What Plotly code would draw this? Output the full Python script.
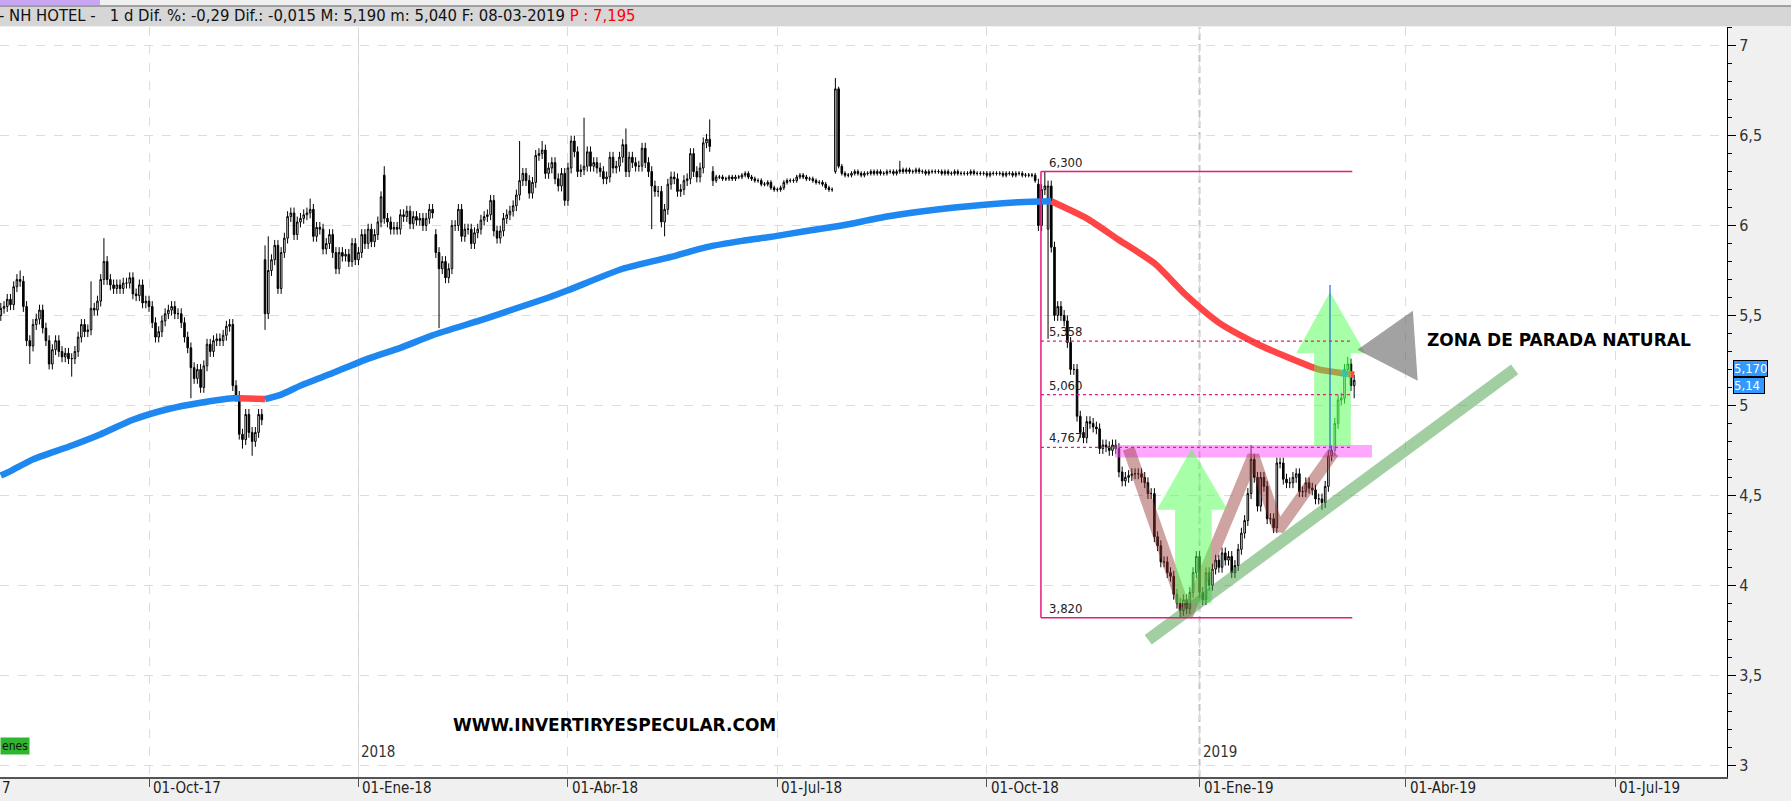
import numpy as np
import pandas as pd
import plotly.graph_objects as go

# ---------------- DATA ----------------
first_day = "2017-07-28"
first_open = 5.50
close = [
    5.54, 5.55, 5.59, 5.56, 5.66, 5.70, 5.69, 5.55, 5.36, 5.33,
    5.45, 5.48, 5.53, 5.43, 5.36, 5.23, 5.31, 5.36, 5.30, 5.27,
    5.29, 5.26, 5.26, 5.30, 5.38, 5.45, 5.41, 5.42, 5.54, 5.53,
    5.58, 5.70, 5.80, 5.70, 5.67, 5.65, 5.67, 5.65, 5.68, 5.68,
    5.71, 5.62, 5.61, 5.67, 5.57, 5.58, 5.55, 5.46, 5.38, 5.41,
    5.47, 5.51, 5.53, 5.55, 5.51, 5.51, 5.46, 5.38, 5.32, 5.21,
    5.15, 5.20, 5.10, 5.22, 5.34, 5.30, 5.36, 5.37, 5.36, 5.39,
    5.44, 5.45, 5.11, 5.05, 4.84, 4.81, 4.95, 4.85, 4.80, 4.85,
    4.95, 4.92,
    5.51, 5.75, 5.81, 5.89, 5.65, 5.85, 5.93, 6.05, 6.07, 5.95,
    6.02, 6.04, 6.06, 6.07, 6.09, 5.94, 5.99, 5.98, 5.87, 5.90,
    5.95, 5.85, 5.76, 5.85, 5.83, 5.84, 5.80, 5.90, 5.81, 5.85,
    5.95, 5.90, 5.98, 5.91, 5.95, 6.02, 6.16, 6.04, 6.02, 5.98,
    5.99, 5.98, 6.06, 6.05, 6.08, 6.01, 6.05, 6.03, 6.04, 6.00,
    6.04, 6.09, 6.07, 5.85, 5.76, 5.80, 5.71, 5.76, 6.00, 6.00,
    6.09, 5.94, 5.98, 5.98, 5.90, 5.96, 5.98, 6.03, 6.05, 6.06,
    6.14, 5.97, 5.93, 5.97, 6.04, 6.06, 6.08, 6.11, 6.17, 6.25,
    6.29, 6.25, 6.18, 6.24, 6.39,
    6.40, 6.42, 6.29, 6.32, 6.35, 6.26, 6.22, 6.29, 6.14, 6.32,
    6.47, 6.41, 6.30, 6.31, 6.33, 6.41, 6.33, 6.35, 6.32, 6.30,
    6.26, 6.27, 6.38, 6.32, 6.33, 6.38, 6.45, 6.30, 6.38, 6.35,
    6.33, 6.33, 6.43, 6.35, 6.30, 6.22, 6.19, 6.19, 6.02, 6.09,
    6.23, 6.27, 6.26, 6.19, 6.20, 6.25, 6.26, 6.40, 6.30, 6.27,
    6.32, 6.46, 6.48, 6.44, 6.25,
    6.27, 6.27, 6.26, 6.26, 6.27, 6.26, 6.27, 6.27, 6.28, 6.29,
    6.27, 6.26, 6.25, 6.25, 6.23, 6.23, 6.24, 6.21, 6.20, 6.20,
    6.21, 6.24, 6.25, 6.25, 6.25, 6.27, 6.28, 6.27, 6.26, 6.26,
    6.25, 6.24, 6.24, 6.23, 6.21, 6.20, 6.20,
    6.76,
    6.33, 6.29, 6.28, 6.28, 6.29, 6.30, 6.29, 6.28, 6.29, 6.29,
    6.30, 6.29, 6.30, 6.29, 6.29, 6.30, 6.30, 6.29, 6.30, 6.31,
    6.30, 6.31, 6.30, 6.30, 6.31, 6.30, 6.30, 6.29, 6.30, 6.30,
    6.30, 6.30, 6.29, 6.30, 6.29, 6.29, 6.30, 6.29, 6.29, 6.29,
    6.29, 6.30, 6.29, 6.29, 6.29, 6.29, 6.28, 6.29, 6.29, 6.29,
    6.29, 6.28, 6.29, 6.29, 6.28, 6.29, 6.29, 6.28, 6.28, 6.28,
    6.28, 6.25,
    6.00, 6.20, 6.22, 6.22, 5.88, 5.50, 5.55, 5.50, 5.47, 5.35,
    5.20, 5.20, 4.94, 4.85, 4.82, 4.91, 4.90, 4.88, 4.87, 4.76,
    4.78, 4.77, 4.75, 4.78, 4.76, 4.63, 4.58, 4.60, 4.61, 4.62,
    4.62, 4.62, 4.60, 4.57, 4.51, 4.51, 4.27, 4.22, 4.13, 4.13,
    4.07, 4.05, 3.95, 3.90, 3.86, 3.92, 3.87, 3.96, 4.07, 4.16,
    3.96, 3.92, 4.07, 4.00, 4.09, 4.14, 4.10, 4.18, 4.14, 4.16,
    4.07, 4.11, 4.20, 4.29, 4.36, 4.51, 4.70, 4.60, 4.44, 4.60,
    4.55, 4.37, 4.37, 4.32, 4.68, 4.68, 4.59, 4.57, 4.57, 4.60,
    4.62, 4.52, 4.52, 4.57, 4.54, 4.53, 4.48, 4.48, 4.46, 4.55,
    4.72, 4.75, 4.90, 5.03, 5.04, 5.20, 5.23, 5.11, 5.14,
]
gap_open = {82: 5.81, 119: 6.28, 135: 5.95, 221: 6.30, 259: 6.30, 322: 6.23, 325: 5.98}
high_override = {6: 5.75, 28: 5.69, 32: 5.93, 82: 5.89, 83: 5.94, 96: 6.15, 119: 6.33,
                 161: 6.47, 168: 6.47, 181: 6.60, 194: 6.54, 220: 6.59, 259: 6.82,
                 279: 6.36, 324: 6.30, 388: 4.78, 418: 5.27}
low_override = {9: 5.23, 22: 5.16, 59: 5.04, 75: 4.76, 78: 4.72, 82: 5.42, 136: 5.43,
                202: 5.98, 206: 5.94, 325: 5.37, 366: 3.82, 410: 4.42, 420: 5.04}
green_bars = (414, 418)

# moving average (bar index, value)
ma_bar = [0, 3, 10, 21, 31, 41, 52, 62, 72, 74, 82, 87, 93, 103, 114, 124, 134, 150, 160,
          170, 176, 193, 209, 219, 230, 240, 250, 261, 275, 296, 316, 326, 337, 347, 358,
          368, 378, 389, 399, 409, 416, 418, 420]
ma_val = [4.61, 4.635, 4.70, 4.77, 4.84, 4.92, 4.98, 5.015, 5.04, 5.04, 5.035, 5.06, 5.11,
          5.18, 5.26, 5.32, 5.39, 5.48, 5.54, 5.60, 5.64, 5.76, 5.83, 5.88, 5.915, 5.94,
          5.97, 6.00, 6.05, 6.10, 6.13, 6.135, 6.04, 5.92, 5.79, 5.61, 5.46, 5.35, 5.27,
          5.20, 5.18, 5.175, 5.17]
ma_red_ranges = [(74, 82), (326, 416), (418, 420)]

fib_levels = [6.300, 5.358, 5.060, 4.767, 3.820]
fib_labels = ["6,300", "5,358", "5,060", "4,767", "3,820"]

tick_dates = ["2017-10-02", "2018-01-01", "2018-04-02", "2018-07-02",
              "2018-10-01", "2019-01-01", "2019-04-01", "2019-07-01"]
tick_labels = ["01-Oct-17", "01-Ene-18", "01-Abr-18", "01-Jul-18",
               "01-Oct-18", "01-Ene-19", "01-Abr-19", "01-Jul-19"]
y_ticks = [3, 3.5, 4, 4.5, 5, 5.5, 6, 6.5, 7]
y_ticktext = ["3", "3,5", "4", "4,5", "5", "5,5", "6", "6,5", "7"]

# ---------------- BUILD ----------------
n = len(close)
dates = pd.bdate_range(first_day, periods=n)
c = np.array(close, dtype=float)
o = np.concatenate([[first_open], c[:-1]])
for k, v in gap_open.items():
    o[k] = v
w = np.where((np.arange(n) >= 222) & (np.arange(n) <= 321), 0.012, 0.03)
h = np.maximum(o, c) + w
l = np.minimum(o, c) - w
for k, v in high_override.items():
    h[k] = v
for k, v in low_override.items():
    l[k] = v

FONT = "Liberation Sans Narrow, DejaVu Sans Condensed, Liberation Sans, sans-serif"
BOLD = "DejaVu Sans, Verdana, sans-serif"
PINK = "#e8197d"

fig = go.Figure()

# MA line, coloured by segments
def is_red(a, b):
    return any(r0 <= a and b <= r1 for r0, r1 in ma_red_ranges)

segs = []
for k in range(len(ma_bar) - 1):
    col = "#ff4545" if is_red(ma_bar[k], ma_bar[k + 1]) else "#1e88f0"
    if segs and segs[-1][0] == col:
        segs[-1][1].append(k + 1)
    else:
        segs.append([col, [k, k + 1]])
for col, idx in segs:
    fig.add_trace(go.Scatter(x=[dates[ma_bar[i]] for i in idx], y=[ma_val[i] for i in idx],
                             mode="lines", line=dict(color=col, width=6.5, shape="spline", smoothing=0.6),
                             hoverinfo="skip"))

# candles
mask = np.ones(n, bool)
mask[green_bars[0]:green_bars[1] + 1] = False
fig.add_trace(go.Candlestick(
    x=dates[mask], open=o[mask], high=h[mask], low=l[mask], close=c[mask],
    increasing=dict(line=dict(color="black", width=1), fillcolor="white"),
    decreasing=dict(line=dict(color="black", width=1), fillcolor="black"),
    hoverinfo="skip"))
gm = ~mask
fig.add_trace(go.Candlestick(
    x=dates[gm], open=o[gm], high=h[gm], low=l[gm], close=c[gm],
    increasing=dict(line=dict(color="#006400", width=1), fillcolor="white"),
    decreasing=dict(line=dict(color="#006400", width=1), fillcolor="#006400"),
    hoverinfo="skip"))

# ---- drawn annotations (overlays) ----
def poly(xs, ys, fill):
    fig.add_trace(go.Scatter(x=xs, y=ys, mode="lines", fill="toself", fillcolor=fill,
                             line=dict(width=0, color=fill), hoverinfo="skip"))

# pink band
poly(["2018-11-23 19:00", "2019-03-15 12:00", "2019-03-15 12:00", "2018-11-23 19:00", "2018-11-23 19:00"],
     [4.71, 4.71, 4.78, 4.78, 4.71], "rgba(255,80,255,0.5)")
# brown zigzag
fig.add_trace(go.Scatter(
    x=["2018-11-30 00:00", "2018-12-26 02:00", "2019-01-23 17:00", "2019-02-04 12:00", "2019-02-27 14:00"],
    y=[4.76, 3.83, 4.72, 4.31, 4.74], mode="lines",
    line=dict(color="rgba(150,50,50,0.45)", width=12), hoverinfo="skip"))
# green arrow 1
poly(["2018-12-20 10:00", "2019-01-04 19:00", "2019-01-04 19:00", "2019-01-11 17:00", "2018-12-27 14:00",
      "2018-12-12 19:00", "2018-12-20 10:00", "2018-12-20 10:00"],
     [3.90, 3.90, 4.42, 4.42, 4.76, 4.42, 4.42, 3.90], "rgba(80,255,80,0.5)")
# green arrow 2
poly(["2019-02-19 14:00", "2019-03-06 23:00", "2019-03-06 23:00", "2019-03-13 10:00", "2019-02-26 12:00",
      "2019-02-12 00:00", "2019-02-19 14:00", "2019-02-19 14:00"],
     [4.775, 4.775, 5.29, 5.29, 5.63, 5.29, 5.29, 4.775], "rgba(80,255,80,0.5)")
# green trend line
fig.add_trace(go.Scatter(x=["2018-12-10 02:00", "2019-05-16 19:00"], y=[3.697, 5.20], mode="lines",
                         line=dict(color="rgba(70,160,70,0.5)", width=12), hoverinfo="skip"))
# grey triangle
poly(["2019-03-11 00:00", "2019-04-03 05:00", "2019-04-04 17:00", "2019-03-11 00:00"],
     [5.31, 5.526, 5.137, 5.31], "rgba(100,100,100,0.6)")
# thin blue vertical line
fig.add_trace(go.Scatter(x=["2019-02-26 12:00", "2019-02-26 12:00"], y=[4.75, 5.67], mode="lines",
                         line=dict(color="#1f6fd0", width=1.2), hoverinfo="skip"))

# fib lines
fx0, fx1 = "2018-10-23 19:00", "2019-03-07 10:00"
fig.add_shape(type="line", x0=fx0, x1=fx0, y0=3.82, y1=6.30, line=dict(color=PINK, width=1.5), layer="above")
for lv, lab in zip(fib_levels, fib_labels):
    solid = lv in (6.300, 3.820)
    fig.add_shape(type="line", x0=fx0, x1=fx1, y0=lv, y1=lv, layer="above",
                  line=dict(color=PINK, width=1.5 if solid else 1.2, dash="solid" if solid else "3px,3px"))
    fig.add_annotation(x="2018-10-25 17:00", y=lv, text=lab, showarrow=False, xanchor="left",
                       yanchor="bottom", yshift=0, font=dict(family=FONT, size=13, color="#222"))

# year lines
fig.add_shape(type="line", x0="2018-01-01", x1="2018-01-01", y0=0, y1=1, yref="paper",
              line=dict(color="#d4d4d4", width=1), layer="below")
fig.add_shape(type="line", x0="2019-01-01", x1="2019-01-01", y0=0, y1=1, yref="paper",
              line=dict(color="#c4c4c4", width=2, dash="7px,4px"), layer="below")
for yr, d in [("2018", "2018-01-01"), ("2019", "2019-01-01")]:
    fig.add_annotation(x=d, y=0.0187, yref="paper", text=yr, showarrow=False, xanchor="left",
                       xshift=1, font=dict(family=FONT, size=15, color="#333"))

# x labels (left aligned to tick)
for d, t in zip(tick_dates, tick_labels):
    fig.add_annotation(x=d, y=-0.0147, yref="paper", text=t, showarrow=False, xanchor="left",
                       yanchor="middle", xshift=2, font=dict(family=FONT, size=15, color="#222"))
fig.add_annotation(x=0, xref="paper", y=-0.0147, yref="paper", text="7", showarrow=False,
                   xanchor="left", yanchor="middle", font=dict(family=FONT, size=15, color="#222"))

# header
fig.add_shape(type="rect", xref="paper", yref="paper", x0=0, x1=1.04, y0=1.0013, y1=1.028,
              fillcolor="#d6d6d6", line=dict(width=0), layer="above")
fig.add_shape(type="line", xref="paper", yref="paper", x0=0, x1=1.04, y0=1.028, y1=1.028,
              line=dict(color="#8a8a8a", width=1.5), layer="above")
fig.add_shape(type="rect", xref="paper", yref="paper", x0=0, x1=0.0579, y0=1.0293, y1=1.04,
              fillcolor="#c9a6f2", line=dict(width=0), layer="above")
fig.add_annotation(x=-0.002, xref="paper", y=1.0147, yref="paper", xanchor="left", yanchor="middle",
                   showarrow=False, font=dict(family=FONT, size=16.5, color="#111"),
                   text="- NH HOTEL -&nbsp;&nbsp;&nbsp;1 d Dif. %: -0,29 Dif.: -0,015 M: 5,190 m: 5,040 "
                        "F: 08-03-2019 <span style='color:#ff0000'>P : 7,195</span>")

# texts
fig.add_annotation(x=0.8251, xref="paper", y=0.5827, yref="paper", xanchor="left", yanchor="middle",
                   showarrow=False, text="<b>ZONA DE PARADA NATURAL</b>",
                   font=dict(family=BOLD, size=17, color="black"))
fig.add_annotation(x=0.2611, xref="paper", y=0.0693, yref="paper", xanchor="left", yanchor="middle",
                   showarrow=False, text="<b>WWW.INVERTIRYESPECULAR.COM</b>",
                   font=dict(family=BOLD, size=17, color="black"))
fig.add_annotation(x=0, xref="paper", y=0.0413, yref="paper", xanchor="left", yanchor="middle",
                   showarrow=False, text="enes", bgcolor="#2fb52f", borderpad=1,
                   font=dict(family=FONT, size=12, color="#111"))

# price tags, stacked
fig.add_annotation(x=1.0035, xref="paper", y=5.207, xanchor="left", yanchor="middle", showarrow=False,
                   text="5,170", bgcolor="#3399ff", bordercolor="black", borderwidth=1, borderpad=0,
                   font=dict(family=FONT, size=13, color="white"))
fig.add_annotation(x=1.0035, xref="paper", y=5.11, xanchor="left", yanchor="middle", showarrow=False,
                   text="5,14&nbsp;", bgcolor="#3399ff", bordercolor="black", borderwidth=1, borderpad=0,
                   font=dict(family=FONT, size=13, color="white"))

fig.update_layout(
    width=1791, height=801, margin=dict(l=0, r=64, t=27, b=24),
    paper_bgcolor="#f0f0f0", plot_bgcolor="white", showlegend=False,
    font=dict(family=FONT, size=13, color="#222"),
    xaxis=dict(type="date", range=["2017-07-27 18:00", "2019-08-16 16:48"],
               rangebreaks=[dict(bounds=["sat", "mon"])], rangeslider=dict(visible=False),
               tickmode="array", tickvals=tick_dates, showticklabels=False,
               ticks="outside", ticklen=8, tickcolor="#555",
               showgrid=True, gridcolor="#dcdcdc", griddash="dash", gridwidth=1,
               showline=True, linecolor="#555", linewidth=2, zeroline=False, fixedrange=True),
    yaxis=dict(side="right", range=[2.934, 7.104], tickmode="array", tickvals=y_ticks,
               ticktext=y_ticktext, ticks="outside", ticklen=8, tickcolor="black",
               tickfont=dict(family=FONT, size=16, color="#333"),
               showline=True, linecolor="black", linewidth=1,
               showgrid=True, gridcolor="#dcdcdc", griddash="dash", gridwidth=1, zeroline=False,
               minor=dict(tickmode="linear", tick0=3, dtick=0.1, ticks="outside", ticklen=4,
                          tickcolor="black", showgrid=False),
               fixedrange=True),
)

fig.write_html("out.html", config={"displayModeBar": False},
               post_script="document.body.style.margin='0';document.body.style.overflow='hidden';")
